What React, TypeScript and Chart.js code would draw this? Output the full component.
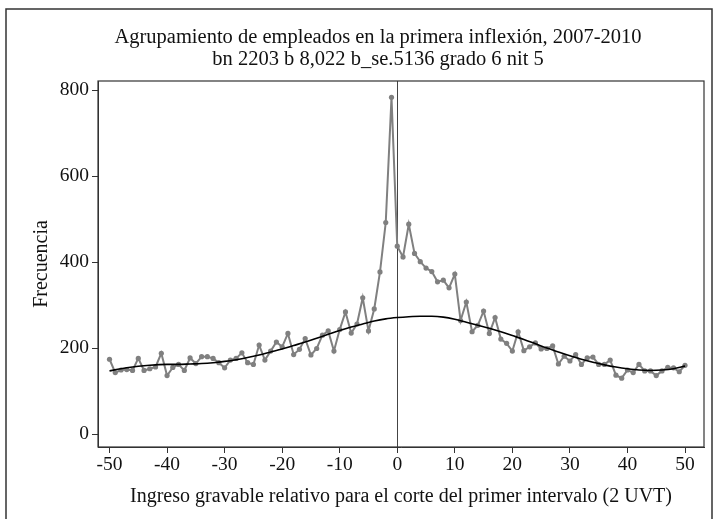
import { useEffect, useRef } from "react";
import { Chart, registerables } from "chart.js";

Chart.register(...registerables);

const TITLE_LINES = [
  "Agrupamiento de empleados en la primera inflexión, 2007-2010",
  "bn 2203 b 8,022 b_se.5136 grado 6 nit 5",
];
const X_TITLE = "Ingreso gravable relativo para el corte del primer intervalo (2 UVT)";
const Y_TITLE = "Frecuencia";

const bins = [
  -50, -49, -48, -47, -46, -45, -44, -43, -42, -41,
  -40, -39, -38, -37, -36, -35, -34, -33, -32, -31,
  -30, -29, -28, -27, -26, -25, -24, -23, -22, -21,
  -20, -19, -18, -17, -16, -15, -14, -13, -12, -11,
  -10, -9, -8, -7, -6, -5, -4, -3, -2, -1,
  0, 1, 2, 3, 4, 5, 6, 7, 8, 9,
  10, 11, 12, 13, 14, 15, 16, 17, 18, 19,
  20, 21, 22, 23, 24, 25, 26, 27, 28, 29,
  30, 31, 32, 33, 34, 35, 36, 37, 38, 39,
  40, 41, 42, 43, 44, 45, 46, 47, 48, 49, 50,
];

const frecuencia = [
  174, 143, 149, 150, 148, 176, 148, 152, 156, 188,
  136, 155, 162, 148, 177, 164, 180, 180, 176, 166,
  154, 172, 176, 189, 166, 162, 207, 172, 193, 214,
  203, 234, 185, 197, 222, 184, 199, 230, 240, 193,
  243, 284, 235, 256, 317, 240, 291, 377, 492, 783,
  437, 412, 488, 420, 401, 386, 378, 354, 358, 340,
  372, 264, 307, 238, 253, 286, 234, 271, 221, 211,
  193, 238, 194, 203, 212, 198, 199, 205, 163, 181,
  170, 185, 162, 177, 179, 162, 162, 172, 137, 130,
  149, 143, 162, 147, 147, 136, 147, 155, 154, 145, 160,
];

const ajusteX = [
  -50, -48, -46, -44, -42, -40, -38, -36, -34, -32,
  -30, -28, -26, -24, -22, -20, -18, -16, -14, -12,
  -10, -8, -6, -4, -2, 0, 2, 4, 6, 8,
  10, 12, 14, 16, 18, 20, 22, 24, 26, 28,
  30, 32, 34, 36, 38, 40, 42, 44, 46, 48, 50,
];
const ajusteY = [
  147, 152, 156, 159, 161, 162, 162, 163, 164, 166,
  169, 173, 178, 184, 191, 198, 206, 214, 223, 232,
  241, 249, 256, 263, 268, 271, 273, 274, 274, 272,
  267, 260, 253, 246, 238, 229, 220, 210, 200, 191,
  182, 174, 167, 161, 156, 152, 149, 148, 149, 152, 158,
];

const xTicks = [-50, -40, -30, -20, -10, 0, 10, 20, 30, 40, 50];
const yTicks = [0, 200, 400, 600, 800];

const FONT = '"Liberation Serif", "Times New Roman", serif';

const framePlugin = {
  id: "frames",
  beforeDraw(chart: any) {
    const ctx = chart.ctx;
    ctx.save();
    ctx.fillStyle = "#ffffff";
    ctx.fillRect(0, 0, chart.width, chart.height);
    ctx.strokeStyle = "#333333";
    ctx.lineWidth = 1.5;
    ctx.beginPath();
    ctx.moveTo(6, chart.height);
    ctx.lineTo(6, 9);
    ctx.lineTo(712, 9);
    ctx.lineTo(712, chart.height);
    ctx.stroke();
    ctx.fillStyle = "#111111";
    ctx.font = "20.5px " + FONT;
    ctx.textAlign = "center";
    ctx.textBaseline = "middle";
    TITLE_LINES.forEach((t, i) => ctx.fillText(t, 378, 38 + i * 22));
    ctx.restore();
  },
  beforeDatasetsDraw(chart: any) {
    const { ctx, chartArea } = chart;
    const x = chart.scales.x.getPixelForValue(0);
    ctx.save();
    ctx.strokeStyle = "#444444";
    ctx.lineWidth = 1;
    ctx.beginPath();
    ctx.moveTo(Math.round(x) + 0.5, chartArea.top);
    ctx.lineTo(Math.round(x) + 0.5, chartArea.bottom);
    ctx.stroke();
    ctx.restore();
  },
  afterDraw(chart: any) {
    const { ctx, chartArea } = chart;
    ctx.save();
    ctx.strokeStyle = "#333333";
    ctx.lineWidth = 1.2;
    ctx.strokeRect(
      chartArea.left,
      chartArea.top,
      chartArea.right - chartArea.left,
      chartArea.bottom - chartArea.top
    );
    ctx.restore();
  },
};

export default function App() {
  const canvasRef = useRef<HTMLCanvasElement | null>(null);

  useEffect(() => {
    const canvas = canvasRef.current;
    if (!canvas) return;
    const chart = new Chart(canvas, {
      type: "line",
      data: {
        datasets: [
          {
            label: "Ajuste",
            data: ajusteX.map((x, i) => ({ x, y: ajusteY[i] })),
            borderColor: "#000000",
            borderWidth: 1.6,
            pointRadius: 0,
            cubicInterpolationMode: "monotone",
            fill: false,
            order: 0,
          },
          {
            label: "Frecuencia",
            data: bins.map((x, i) => ({ x, y: frecuencia[i] })),
            borderColor: "#808080",
            backgroundColor: "#808080",
            borderWidth: 2,
            pointRadius: 2.6,
            pointBorderWidth: 0,
            tension: 0,
            fill: false,
            order: 1,
          },
        ],
      },
      options: {
        animation: false,
        responsive: false,
        devicePixelRatio: 1,
        layout: { padding: { top: 81, right: 13, left: 0, bottom: 0 } },
        plugins: {
          legend: { display: false },
          tooltip: { enabled: false },
          title: { display: false },
        },
        scales: {
          x: {
            type: "linear",
            min: -52,
            max: 53.3,
            afterBuildTicks: (scale: any) => {
              scale.ticks = xTicks.map((v) => ({ value: v }));
            },
            afterFit: (scale: any) => {
              scale.height = 72;
            },
            grid: {
              display: true,
              drawOnChartArea: false,
              drawTicks: true,
              tickLength: 6,
              color: "#333333",
            },
            border: { display: true, color: "#333333" },
            ticks: {
              color: "#111111",
              font: { family: FONT, size: 19.5 },
              padding: 0,
              maxRotation: 0,
              autoSkip: false,
            },
            title: {
              display: true,
              text: X_TITLE,
              color: "#111111",
              font: { family: FONT, size: 20 },
              padding: { top: 0, bottom: 10 },
            },
          },
          y: {
            type: "linear",
            min: -30,
            max: 821,
            afterBuildTicks: (scale: any) => {
              scale.ticks = yTicks.map((v) => ({ value: v }));
            },
            afterFit: (scale: any) => {
              scale.width = 98;
            },
            grid: {
              display: true,
              drawOnChartArea: false,
              drawTicks: true,
              tickLength: 6,
              color: "#333333",
            },
            border: { display: true, color: "#333333" },
            ticks: {
              color: "#111111",
              font: { family: FONT, size: 19.5 },
              padding: 3,
              autoSkip: false,
            },
            title: {
              display: true,
              text: Y_TITLE,
              color: "#111111",
              font: { family: FONT, size: 20 },
              padding: { top: 30, bottom: 0 },
            },
          },
        },
      },
      plugins: [framePlugin],
    });
    return () => chart.destroy();
  }, []);

  return (
    <div style={{ position: "absolute", left: 0, top: 0, width: 717, height: 519 }}>
      <canvas ref={canvasRef} width={717} height={519} />
    </div>
  );
}
